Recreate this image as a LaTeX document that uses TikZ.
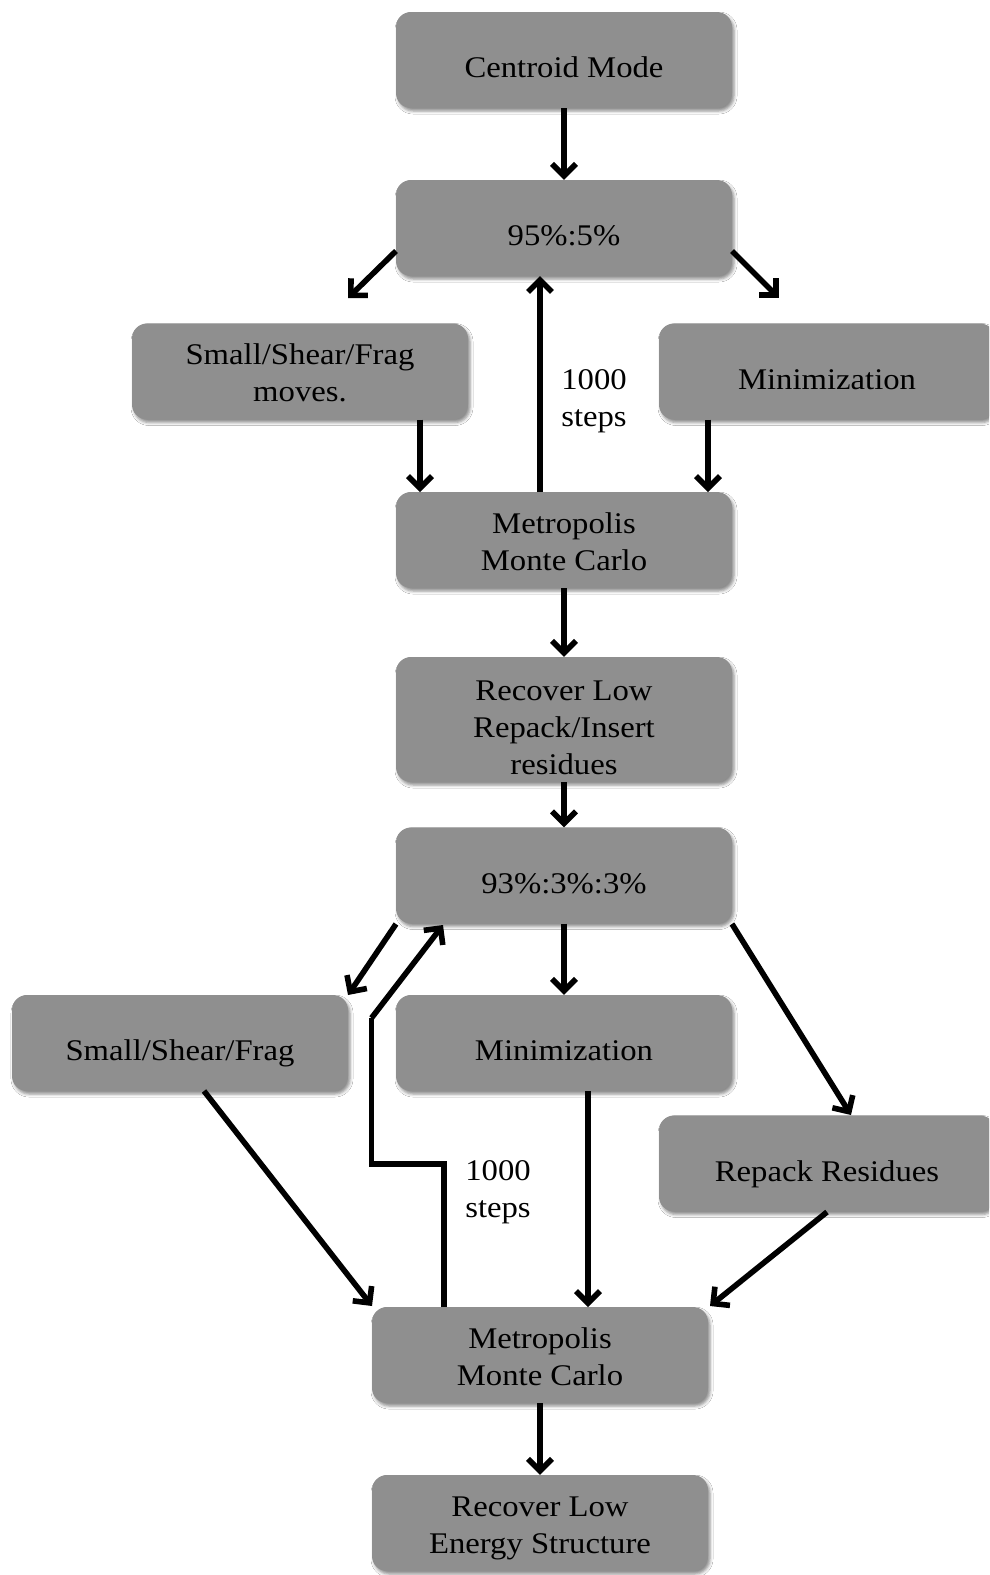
\documentclass[tikz,border=0pt]{standalone}
\usepackage{fontspec}
\setmainfont{Liberation Serif}[FakeStretch=1.09]
\usetikzlibrary{arrows.meta,shadows.blur,calc}
\definecolor{boxgray}{RGB}{143,143,143}
\newcommand\ftop[1]{\rule{0pt}{#1}}
\newcommand\fbot{\rule[-8pt]{0pt}{8pt}}
\begin{document}
\begin{tikzpicture}[x=1pt,y=-1pt,
  flowbox/.style={rectangle, rounded corners=15pt, fill=boxgray, draw=none,
    minimum width=336pt, minimum height=96pt, inner sep=0pt, align=center,
    font=\fontsize{30}{37}\selectfont,
    blur shadow={shadow xshift=2pt, shadow yshift=-3pt, shadow blur radius=3pt, shadow opacity=45}},
  lbl/.style={align=center, font=\fontsize{30}{37}\selectfont, inner sep=0pt},
  conn/.style={line width=5.6pt, -{Straight Barb[length=12pt,width=24pt,line width=5.6pt]}},
  seg/.style={line width=5.6pt}]
\useasboundingbox (0,0) rectangle (989,1575);
\clip (0,0) rectangle (989,1575);
\fill[white] (0,0) rectangle (989,1575);

\node[flowbox] (b1) at (564,60) {\ftop{43pt}Centroid Mode\fbot};
\node[flowbox] (b2) at (564,228) {\ftop{43pt}95\%:5\%\fbot};
\node[flowbox] (b3) at (300,371.5) {\ftop{31pt}Small/Shear/Frag\\moves.\fbot};
\node[flowbox] (b4) at (827,371.5) {\ftop{43pt}Minimization\fbot};
\node[flowbox] (b5) at (564,540) {\ftop{31pt}Metropolis\\Monte Carlo\fbot};
\node[flowbox, minimum height=121pt] (b6) at (564,719.5) {\ftop{43pt}Recover Low\\Repack/Insert\\residues\fbot};
\node[flowbox] (b7) at (564,875.5) {\ftop{43pt}93\%:3\%:3\%\fbot};
\node[flowbox] (b8) at (180,1043) {\ftop{43pt}Small/Shear/Frag\fbot};
\node[flowbox] (b9) at (564,1043) {\ftop{43pt}Minimization\fbot};
\node[flowbox] (b10) at (827,1163.5) {\ftop{43pt}Repack Residues\fbot};
\node[flowbox] (b11) at (540,1355) {\ftop{31pt}Metropolis\\Monte Carlo\fbot};
\node[flowbox] (b12) at (540,1523) {\ftop{31pt}Recover Low\\Energy Structure\fbot};

\node[lbl] (l1) at (594,396) {\ftop{31pt}1000\\steps\fbot};
\node[lbl] (l2) at (498,1187) {\ftop{31pt}1000\\steps\fbot};

% free ends
\coordinate (e23) at (348,298);
\coordinate (e24) at (779,298);
\coordinate (e78) at (348,995);
\coordinate (k1) at (444,1164);
\coordinate (k2) at (371.5,1164);
\coordinate (k3) at (371.5,1018);
\coordinate (e117) at (443,925);

\draw[conn] (b1.south) -- (b2.north);
\draw[conn] (396,251) -- (e23);
\draw[conn] (732,251) -- (e24);
\draw[conn] (b3.south -| 420,0) -- (420,492);
\draw[conn] (b4.south -| 708,0) -- (708,492);
\draw[conn] (540,492) -- (540,276);
\draw[conn] (b5.south) -- (b6.north);
\draw[conn] (b6.south) -- (b7.north);
\draw[conn] (396,924) -- (e78);
\draw[seg, line join=miter] (444,1307) -- (k1) -- (k2) -- (k3);
\draw[conn] (k3) -- (e117);
\draw[conn] (b7.south) -- (b9.north);
\draw[conn] (732,924) -- (851,1115);
\draw[conn] (204,1091) -- (372,1306);
\draw[conn] (588,1091) -- (588,1307);
\draw[conn] (827,1212) -- (710,1306);
\draw[conn] (b11.south) -- (b12.north);
\end{tikzpicture}
\end{document}
